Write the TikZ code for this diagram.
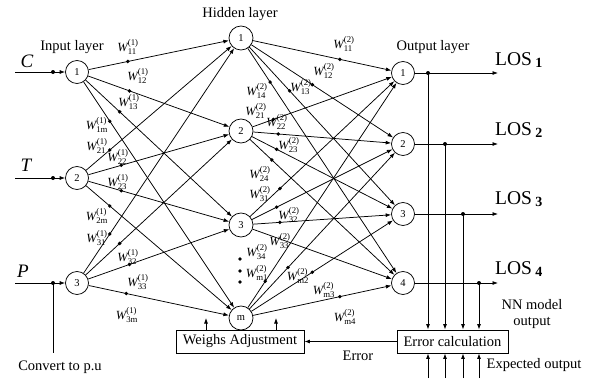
\documentclass[tikz,border=0pt]{standalone}
\usepackage{fontspec}
\setmainfont{Liberation Serif}
\usepackage{amsmath}
\usetikzlibrary{arrows.meta,calc}

% weight label W^{(layer)}_{ij}
\newcommand\wt[2]{$\textit{W}^{\text{(#2)}}_{\text{#1}}$}
\newcommand\losout[1]{LOS\,\raisebox{-2pt}{\fontsize{14}{14}\selectfont\bfseries #1}}

\tikzset{
  neuron/.style={circle,draw,line width=0.75pt,minimum size=23pt,inner sep=0pt,
                 font=\fontsize{10.5}{10.5}\selectfont},
  hneuron/.style={neuron,minimum size=24pt},
  link/.style={line width=0.75pt,-{Latex[length=5.5pt,width=4pt]}},
  wire/.style={line width=0.75pt,-{Latex[length=5.5pt,width=4pt]}},
  blockbox/.style={draw,line width=0.9pt,minimum height=23pt,inner sep=0pt,
                   font=\fontsize{14.5}{15}\selectfont},
  wlabel/.style={font=\fontsize{12.5}{12.5}\selectfont,inner sep=0pt},
  txt/.style={font=\fontsize{14.5}{15}\selectfont,inner sep=0pt},
  varlabel/.style={font=\fontsize{19}{19}\selectfont\itshape,inner sep=0pt},
  loslabel/.style={font=\fontsize{19.5}{20}\selectfont,inner sep=0pt,anchor=west},
}

\begin{document}
\begin{tikzpicture}[x=1pt,y=-1pt]
\useasboundingbox (0,0) rectangle (595,378);

% neurons
\node[neuron] (i1) at (77,72) {1};
\node[neuron] (i2) at (77,178) {2};
\node[neuron] (i3) at (77,283) {3};
\node[hneuron] (h1) at (241,38) {1};
\node[hneuron] (h2) at (241,131) {2};
\node[hneuron] (h3) at (241,225) {3};
\node[hneuron] (hm) at (241,318) {m};
\node[neuron] (o1) at (403,73) {1};
\node[neuron] (o2) at (403,144) {2};
\node[neuron] (o3) at (403,214) {3};
\node[neuron] (o4) at (403,283) {4};

% layer titles
\node[txt] (tin) at (72,47) {Input layer};
\node[txt] (thid) at (240,14) {Hidden layer};
\node[txt] (tout) at (433,47) {Output layer};

% full connections
\foreach \a in {i1,i2,i3}
  \foreach \b in {h1,h2,h3,hm}
    \draw[link] (\a) -- (\b);
\foreach \a in {h1,h2,h3,hm}
  \foreach \b in {o1,o2,o3,o4}
    \draw[link] (\a) -- (\b);

% weight markers on the connections
\foreach \a/\b/\t in {i1/h1/.31,i1/h2/.32,i1/h3/.26,i1/hm/.20,
                      i2/h1/.20,i2/h2/.27,i2/h3/.27,i2/hm/.20,
                      i3/h1/.20,i3/h2/.26,i3/h3/.32,i3/hm/.30,
                      h1/o1/.61,h1/o2/.44,h1/o3/.30,h1/o4/.18,
                      h2/o1/.20,h2/o2/.23,h2/o3/.22,h2/o4/.19,
                      h3/o1/.24,h3/o2/.22,h3/o3/.24,
                      hm/o1/.15,hm/o2/.29,hm/o3/.44,hm/o4/.61}
  \fill ($(\a)!\t!(\b)$) circle[radius=1.9pt];

% ellipsis between hidden neurons 3 and m
\foreach \y in {259,271,282}
  \fill (240,\y) circle[radius=1.9pt];

% weight labels, first layer
\foreach \s/\x/\y in {11/128/47,12/138/76,13/129/102,1m/97/125,
                      21/97/146,22/118/157,23/118/182,2m/97/216,
                      31/97/238,32/128/257,33/138/282,3m/127/315}
  \node[wlabel] (wa\s) at (\x,\y) {\wt{\s}{1}};
% weight labels, second layer
\foreach \s/\x/\y in {11/344/44,12/324/71,13/301/87,14/257/91,
                      21/256/111,22/277/122,23/289/145,24/260/174,
                      31/260/194,32/289/215,33/280/241,34/257/252,
                      m1/257/273,m2/298/276,m3/324/290,m4/345/317}
  \node[wlabel] (wb\s) at (\x,\y) {\wt{\s}{2}};

% inputs
\coordinate (inC) at (15,72);
\coordinate (inT) at (15,178);
\coordinate (inP) at (15,283);
\draw[wire] (inC) -- (i1);
\draw[wire] (inT) -- (i2);
\draw[wire] (inP) -- (i3);
\coordinate (dC) at (53,72);
\coordinate (dT) at (53,178);
\coordinate (dP) at (53,283);
\foreach \c in {dC,dT,dP} \fill (\c) circle[radius=2pt];
\node[varlabel] (lC) at (27,61) {C};
\node[varlabel] (lT) at (26,165) {T};
\node[varlabel] (lP) at (23,271) {P};

% per-unit conversion tap
\coordinate (cvEnd) at (53,353);
\draw[line width=0.75pt] (dP) -- (cvEnd);
\node[txt] (cv) at (60,367) {Convert to p.u};

% outputs
\coordinate (e1) at (498,73);
\coordinate (e2) at (498,144);
\coordinate (e3) at (498,214);
\coordinate (e4) at (498,283);
\draw[wire] (o1) -- (e1);
\draw[wire] (o2) -- (e2);
\draw[wire] (o3) -- (e3);
\draw[wire] (o4) -- (e4);
\node[loslabel] (los1) at (495,60) {\losout{1}};
\node[loslabel] (los2) at (495,130) {\losout{2}};
\node[loslabel] (los3) at (495,199) {\losout{3}};
\node[loslabel] (los4) at (495,269) {\losout{4}};

% blocks
\node[blockbox,minimum width=128pt] (adj) at (240,341.5) {Weighs Adjustment};
\node[blockbox,minimum width=111pt] (err) at (452.5,341.5) {Error calculation};

% taps of the network outputs into the error block
\coordinate (t1) at (428,73);
\coordinate (t2) at (445,144);
\coordinate (t3) at (463,214);
\coordinate (t4) at (479,283);
\foreach \t in {t1,t2,t3,t4} {
  \fill (\t) circle[radius=2pt];
  \draw[wire] (\t) -- (\t |- err.north);
}
% expected outputs entering from below
\foreach \t in {t1,t2,t3,t4}
  \draw[wire] (\t |- 0,378) -- (\t |- err.south);

\node[txt,align=center,font=\fontsize{14.5}{16.5}\selectfont] (nnout) at (532,314) {NN model\\output};
\node[txt] (expo) at (534,365) {Expected output};

% error feedback
\draw[wire] (err.west) -- (adj.east);
\node[txt] (errlbl) at (358,356) {Error};

% weight updates
\coordinate (u1) at (206,318);
\coordinate (u2) at (276,318);
\draw[wire] (u1 |- adj.north) -- (u1);
\draw[wire] (u2 |- adj.north) -- (u2);
\end{tikzpicture}
\end{document}
